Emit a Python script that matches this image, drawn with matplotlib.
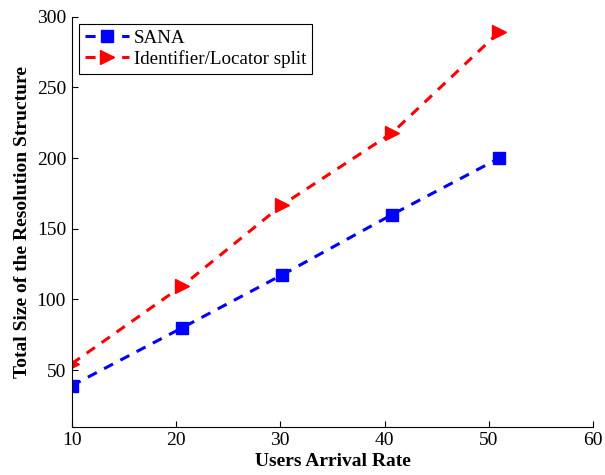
import matplotlib.pyplot as plt

plt.rcParams['font.family'] = 'Liberation Serif'

# data
arrival_rate = [10, 20.6, 30.2, 40.7, 51.0]
sana = [39, 80, 117.5, 160, 200]
id_loc = [54.5, 109.6, 167, 217.7, 289.4]

fig = plt.figure(figsize=(6.05, 4.75), dpi=100)
ax = fig.add_axes([0.1184, 0.1017, 0.8623, 0.8631])

dash = (0, (3.3, 2.7))
ax.plot(arrival_rate, sana, linestyle=dash, color='blue', lw=2.2,
        marker='s', markersize=8, label='SANA')
ax.plot(arrival_rate, id_loc, linestyle=dash, color='red', lw=2.2,
        marker='>', markersize=10.5, label='Identifier/Locator split')

ax.set_xlim(10, 60)
ax.set_ylim(10, 300)
ax.set_xticks([10, 20, 30, 40, 50, 60])
ax.set_yticks([50, 100, 150, 200, 250, 300])
ax.tick_params(direction='in', length=4, labelsize=14, pad=4)
ax.spines['top'].set_visible(False)
ax.spines['right'].set_visible(False)
for s in ['left', 'bottom']:
    ax.spines[s].set_linewidth(0.8)

ax.set_xlabel('Users Arrival Rate', fontsize=14, fontweight='bold', labelpad=3)
ax.set_ylabel('Total Size of the Resolution Structure', fontsize=14,
              fontweight='bold', labelpad=4)

leg = ax.legend(loc='upper left', bbox_to_anchor=(0.003, 0.997), fontsize=13.7,
                fancybox=False, framealpha=1, edgecolor='black',
                handlelength=2.3, borderpad=0.32, labelspacing=0.15,
                handletextpad=0.25, borderaxespad=0.3)
leg.get_frame().set_linewidth(0.8)

fig.savefig('out.png', dpi=100)
